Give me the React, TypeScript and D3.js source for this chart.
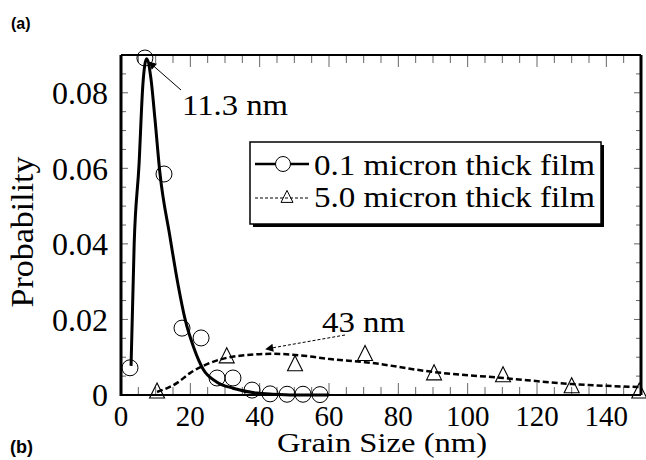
import React from "react";
import * as d3 from "d3";

// 0.1 micron film: measured points (circles) and fitted curve
const thinX = [2.6, 6.9, 12.4, 17.6, 23.1, 27.7, 32.3, 37.8, 43.0, 47.9, 52.5, 57.4];
const thinY = [0.0072, 0.0892, 0.0585, 0.0177, 0.0151, 0.0045, 0.0045, 0.0013, 0.0003, 0.0002, 0.0002, 0.0001];
const thinFitX = [2.9, 3.8, 5.2, 6.3, 7.4, 8.6, 9.8, 11.2, 14.1, 16.5, 18.5, 21.0, 23.7, 27.7, 32.3, 39.2, 43.8, 50, 60];
const thinFitY = [0.0077, 0.04, 0.061, 0.082, 0.089, 0.084, 0.073, 0.059, 0.042, 0.029, 0.02, 0.0125, 0.0068, 0.0034, 0.0018, 0.0005, 0.0002, 0, 0];

// 5.0 micron film: measured points (triangles) and fitted curve
const thickX = [10.4, 30.5, 50.2, 70.4, 90.3, 110.2, 130, 149.5];
const thickY = [0.001, 0.0103, 0.0082, 0.0109, 0.0058, 0.0053, 0.0024, 0.001];
const thickFitX = [10.4, 16.2, 19.9, 25.7, 34.3, 43.8, 53.6, 60.3, 70.4, 90, 110.2, 130, 150];
const thickFitY = [0.0008, 0.0032, 0.0058, 0.0085, 0.0104, 0.0109, 0.0103, 0.0095, 0.0087, 0.0061, 0.0045, 0.0029, 0.0021];

const xTicks = [0, 20, 40, 60, 80, 100, 120, 140];
const yTicks = [0, 0.02, 0.04, 0.06, 0.08];
const legendLabels = ["0.1 micron thick film", "5.0 micron thick film"];

const W = 646;
const H = 460;
const left = 121;
const right = 641;
const top = 55;
const bottom = 395;
const serif = "Liberation Serif, Times New Roman, Times, serif";
const sans = "Liberation Sans, Arial, sans-serif";

export default function App() {
  const x = d3.scaleLinear().domain([0, 150]).range([left, right]);
  const y = d3.scaleLinear().domain([0, 0.09]).range([bottom, top]);

  const line = d3
    .line<[number, number]>()
    .x((d) => x(d[0]))
    .y((d) => y(d[1]))
    .curve(d3.curveMonotoneX);

  const thinFit = thinFitX.map((v, i) => [v, thinFitY[i]] as [number, number]);
  const thickFit = thickFitX.map((v, i) => [v, thickFitY[i]] as [number, number]);

  const xMinor = d3.range(0, 151, 5);
  const yMinor = d3.range(0, 0.0891, 0.005);

  const tri = (cx: number, cy: number, s: number) =>
    `M${cx},${cy - s * 0.55}L${cx + s / 2},${cy + s * 0.45}L${cx - s / 2},${cy + s * 0.45}Z`;

  return (
    <svg width={W} height={H} style={{ position: "absolute", left: 0, top: 0, background: "#fff", fontFamily: serif }}>
      <defs>
        <marker id="arr" viewBox="0 0 10 10" refX="9" refY="5" markerWidth="11" markerHeight="8" markerUnits="userSpaceOnUse" orient="auto">
          <path d="M0,0L10,5L0,10Z" fill="#000" />
        </marker>
      </defs>

      {/* ticks */}
      {xMinor.map((v) => {
        const len = v % 20 === 0 ? 12 : 8;
        return (
          <g key={"xt" + v} stroke="#666" strokeWidth={1}>
            <line x1={x(v)} x2={x(v)} y1={bottom} y2={bottom - len} />
            <line x1={x(v)} x2={x(v)} y1={top} y2={top + len} />
          </g>
        );
      })}
      {yMinor.map((v, i) => {
        const len = i % 4 === 0 ? 7 : 5;
        return (
          <g key={"yt" + i} stroke="#666" strokeWidth={1}>
            <line x1={left} x2={left + len} y1={y(v)} y2={y(v)} />
            <line x1={right} x2={right - len} y1={y(v)} y2={y(v)} />
          </g>
        );
      })}

      {/* frame */}
      <line x1={left} x2={left} y1={top} y2={bottom + 1} stroke="#000" strokeWidth={3} />
      <line x1={left} x2={right} y1={bottom} y2={bottom} stroke="#000" strokeWidth={2} />
      <line x1={left} x2={right} y1={top} y2={top} stroke="#000" strokeWidth={2} />
      <line x1={right} x2={right} y1={top} y2={bottom} stroke="#000" strokeWidth={3} />

      {/* tick labels */}
      {xTicks.map((v) => (
        <text key={"xl" + v} x={x(v)} y={426} textAnchor="middle" style={{ fontFamily: serif }} fontSize={29}>
          {v}
        </text>
      ))}
      {yTicks.map((v) => (
        <text key={"yl" + v} x={108} y={y(v)} dy="0.35em" textAnchor="end" style={{ fontFamily: serif }} fontSize={32}>
          {v === 0 ? "0" : d3.format(".2f")(v)}
        </text>
      ))}

      {/* axis titles */}
      <text x={382} y={452} textAnchor="middle" style={{ fontFamily: serif }} fontSize={28} textLength={210} lengthAdjust="spacingAndGlyphs">
        Grain Size (nm)
      </text>
      <text transform="translate(33,232) rotate(-90)" textAnchor="middle" style={{ fontFamily: serif }} fontSize={31} textLength={151} lengthAdjust="spacingAndGlyphs">
        Probability
      </text>

      {/* fitted curves */}
      <path d={line(thickFit) || ""} fill="none" stroke="#000" strokeWidth={2.5} strokeDasharray="6,3" />
      <path d={line(thinFit) || ""} fill="none" stroke="#000" strokeWidth={3} />

      {/* data markers */}
      {thinX.map((v, i) => (
        <circle key={"c" + i} cx={x(v)} cy={y(thinY[i])} r={8} fill="none" stroke="#000" strokeWidth={1} />
      ))}
      {thickX.map((v, i) => (
        <path key={"t" + i} d={tri(x(v), y(thickY[i]), 15)} fill="none" stroke="#000" strokeWidth={1.1} />
      ))}

      {/* annotations */}
      <line x1={181} y1={90} x2={149} y2={62} stroke="#000" strokeWidth={1} markerEnd="url(#arr)" />
      <text x={182} y={115} style={{ fontFamily: serif }} fontSize={30} textLength={106} lengthAdjust="spacingAndGlyphs">
        11.3 nm
      </text>
      <line x1={345} y1={335} x2={266} y2={349} stroke="#000" strokeWidth={1} strokeDasharray="3,2" markerEnd="url(#arr)" />
      <text x={322} y={332} style={{ fontFamily: serif }} fontSize={30} textLength={83} lengthAdjust="spacingAndGlyphs">
        43 nm
      </text>

      {/* legend */}
      <rect x={253} y={145} width={351} height={82} fill="#000" />
      <rect x={250} y={142} width={351} height={82} fill="#fff" stroke="#000" strokeWidth={1.5} />
      <line x1={255} x2={309} y1={164} y2={164} stroke="#000" strokeWidth={2.5} />
      <circle cx={283} cy={164} r={7.5} fill="#fff" stroke="#000" strokeWidth={1} />
      <line x1={255} x2={309} y1={198} y2={198} stroke="#000" strokeWidth={1.2} strokeDasharray="3,2" />
      <path d={tri(287, 197, 12)} fill="none" stroke="#000" strokeWidth={1} />
      {legendLabels.map((t, i) => (
        <text key={t} x={314} y={175 + i * 32} style={{ fontFamily: serif }} fontSize={30} textLength={281} lengthAdjust="spacingAndGlyphs">
          {t}
        </text>
      ))}

      {/* panel labels */}
      <text x={11} y={29} style={{ fontFamily: sans }} fontWeight="bold" fontSize={16}>
        (a)
      </text>
      <text x={10} y={453} style={{ fontFamily: sans }} fontWeight="bold" fontSize={18}>
        (b)
      </text>
    </svg>
  );
}
